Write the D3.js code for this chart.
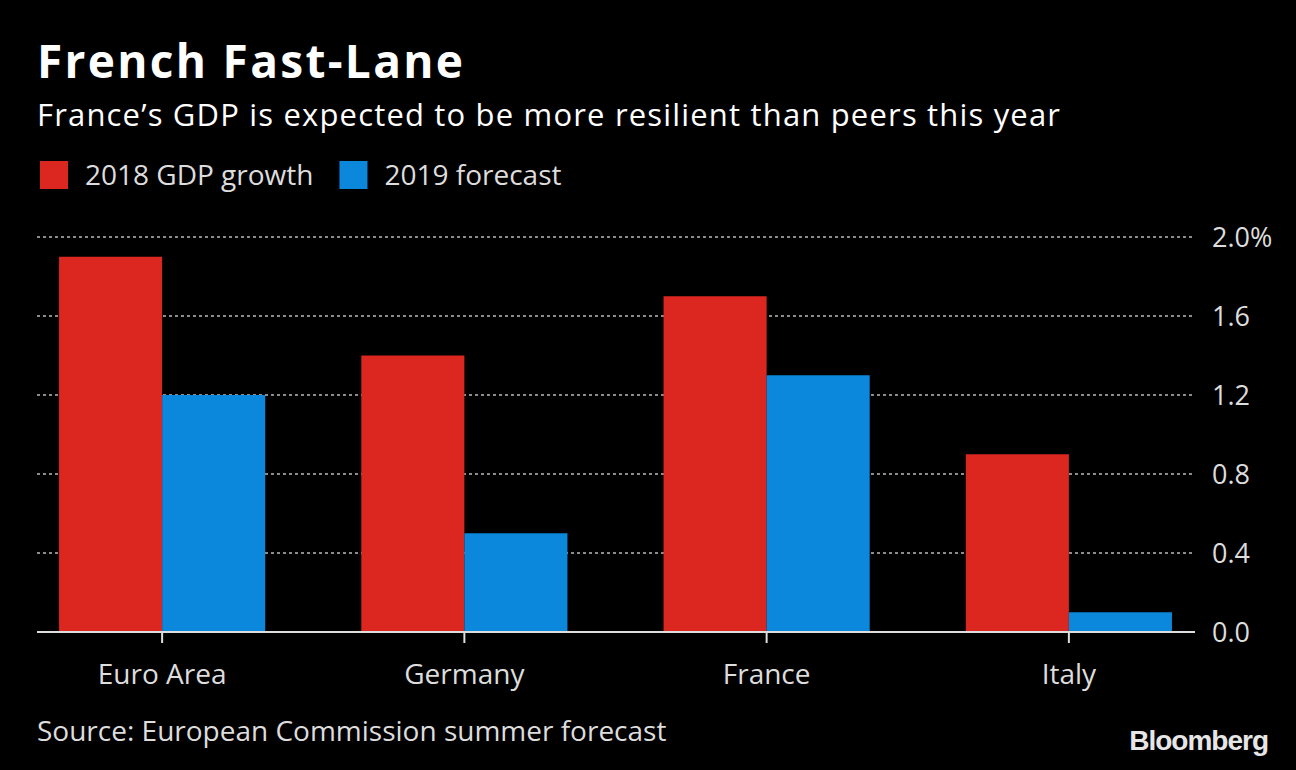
<!DOCTYPE html>
<html><head><meta charset="utf-8">
<script src="https://cdn.jsdelivr.net/npm/d3@7"></script>
<style>body{margin:0;background:#000;} svg{display:block;}</style>
</head><body>
<script>
const categories = ["Euro Area","Germany","France","Italy"];
const seriesNames = ["2018 GDP growth","2019 forecast"];
const gdp2018 = [1.9, 1.4, 1.7, 0.9];
const forecast2019 = [1.2, 0.5, 1.3, 0.1];
const yTicks = [0, 0.4, 0.8, 1.2, 1.6, 2.0];
const colors = ["#dc2720","#0b87dc"];

const W = 1296, H = 770;
const svg = d3.select("body").append("svg").attr("width", W).attr("height", H);
svg.append("rect").attr("width", W).attr("height", H).attr("fill", "#000");

const font = "'Open Sans', 'DejaVu Sans', sans-serif";

svg.append("text").attr("x", 37).attr("y", 78).text("French Fast-Lane")
  .attr("fill", "#fff").attr("font-family", font).attr("font-weight", 700).attr("font-size", 46)
  .attr("textLength", 426).attr("lengthAdjust", "spacing");
svg.append("text").attr("x", 37).attr("y", 126).text("France’s GDP is expected to be more resilient than peers this year")
  .attr("fill", "#fff").attr("font-family", font).attr("font-size", 31)
  .attr("textLength", 1023).attr("lengthAdjust", "spacing");

// legend
const leg = svg.append("g");
let lx = 40;
seriesNames.forEach((s, i) => {
  leg.append("rect").attr("x", lx).attr("y", 161).attr("width", 28).attr("height", 28).attr("fill", colors[i]);
  const t = leg.append("text").attr("x", lx + 45).attr("y", 185).text(s)
    .attr("fill", "#ddd").attr("font-family", font).attr("font-size", 28);
  lx += 45 + t.node().getComputedTextLength() + 26;
});

const y = d3.scaleLinear().domain([0, 2.0]).range([632, 237]);
const x0 = d3.scaleBand().domain(categories).range([11, 1220]).paddingInner(0.318).paddingOuter(0.159);
const x1 = d3.scaleBand().domain(seriesNames).range([0, x0.bandwidth()]);

// grid
const gridL = 37, gridR = 1193;
svg.append("g").selectAll("line").data(yTicks.filter(d => d > 0)).join("line")
  .attr("x1", gridL).attr("x2", gridR).attr("y1", d => y(d)).attr("y2", d => y(d))
  .attr("stroke", "#8c8c8c").attr("stroke-width", 2).attr("stroke-dasharray", "3,3");

// y labels
svg.append("g").selectAll("text").data(yTicks).join("text")
  .attr("x", 1212).attr("y", d => y(d) + 10)
  .text(d => d === 2.0 ? d.toFixed(1) + "%" : d.toFixed(1))
  .attr("fill", "#ddd").attr("font-family", font).attr("font-size", 27);

// bars
const vals = [gdp2018, forecast2019];
const g = svg.append("g");
categories.forEach((c, ci) => {
  seriesNames.forEach((s, si) => {
    const v = vals[si][ci];
    g.append("rect").attr("x", x0(c) + x1(s)).attr("width", x1.bandwidth())
      .attr("y", y(v)).attr("height", y(0) - y(v)).attr("fill", colors[si]);
  });
});

// baseline
svg.append("line").attr("x1", gridL).attr("x2", 1195).attr("y1", y(0)).attr("y2", y(0))
  .attr("stroke", "#ddd").attr("stroke-width", 2);
// x ticks & labels
const xa = svg.append("g");
categories.forEach(c => {
  const cx = x0(c) + x0.bandwidth() / 2;
  xa.append("line").attr("x1", cx).attr("x2", cx).attr("y1", y(0)).attr("y2", y(0) + 11)
    .attr("stroke", "#ddd").attr("stroke-width", 2);
  xa.append("text").attr("x", cx).attr("y", 684).attr("text-anchor", "middle").text(c)
    .attr("fill", "#ddd").attr("font-family", font).attr("font-size", 28);
});

svg.append("text").attr("x", 37).attr("y", 741).text("Source: European Commission summer forecast")
  .attr("fill", "#ddd").attr("font-family", font).attr("font-size", 28);
svg.append("text").attr("x", 1268).attr("y", 750).attr("text-anchor", "end").text("Bloomberg")
  .attr("fill", "#e6e6e6").attr("font-family", "'Liberation Sans', Arial, sans-serif").attr("font-weight", 700)
  .attr("font-size", 28).attr("letter-spacing", -1);
</script>
</body></html>
